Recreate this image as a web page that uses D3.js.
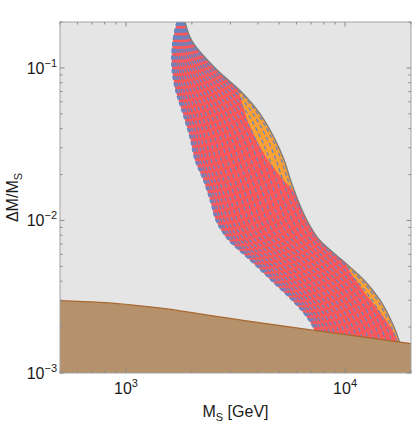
<!DOCTYPE html>
<html>
<head>
<meta charset="utf-8">
<script src="https://cdn.jsdelivr.net/npm/d3@7"></script>
<style>
  body { margin: 0; background: #fff; }
  svg { display: block; font-family: "Liberation Sans", Arial, sans-serif; }
</style>
</head>
<body>
<svg id="chart" width="414" height="422"></svg>
<script>
// band of allowed points in the (M_S, dM/M_S) plane, log-log

// band edges read at fixed dM/M_S levels (M_S in GeV)
var yLevels   = [0.2, 0.15, 0.1, 0.07, 0.05, 0.035, 0.025, 0.018, 0.013, 0.01, 0.0075, 0.0055, 0.004, 0.003, 0.0025, 0.002, 0.0017, 0.0015];
var leftEdge  = [1710, 1639, 1623, 1692, 1821, 1960, 2066, 2271, 2444, 2577, 2923, 3683, 4641, 5726, 6429, 7140, 7370, 7447];
var rightEdge = [1860, 2002, 2550, 3351, 4090, 4740, 5264, 5666, 6164, 6704, 7605, 9685, 12340, 14440, 15540, 16730, 17450, 18010];

// position of each dashed contour across the band (0 = left edge, 1 = right edge)
var contourFrac = [0, 0.012, 0.03, 0.055, 0.09, 0.13, 0.18, 0.235, 0.295, 0.36, 0.425, 0.49, 0.56, 0.63, 0.7, 0.77, 0.84, 0.91, 0.97];

// orange sub-regions (inner edge, closed outside the band)
var orangeTopM = [3048, 3246, 3351, 3459, 3607, 3802, 4049, 4357, 4691, 5102, 5549, 6100, 8538, 8538];
var orangeTopR = [0.0859, 0.0716, 0.0616, 0.053, 0.0442, 0.0374, 0.0312, 0.0261, 0.0224, 0.0193, 0.0168, 0.0149, 0.0149, 0.0859];
var orangeLowM = [9786, 10420, 11460, 12200, 13140, 14140, 15220, 16210, 17080, 18010, 24420, 24420];
var orangeLowR = [0.00567, 0.00473, 0.00389, 0.0034, 0.00296, 0.00259, 0.00226, 0.00197, 0.00172, 0.0015, 0.0015, 0.00567];

// excluded region at the bottom
var brownM = [500, 761, 1077, 1539, 2178, 3683, 6230, 10530, 20000];
var brownR = [0.00298, 0.0029, 0.00279, 0.00263, 0.00244, 0.00218, 0.00196, 0.00177, 0.00156];

var xTicks = [1000, 10000], xExp = ["3", "4"];
var yTicks = [0.001, 0.01, 0.1], yExp = ["\u22123", "\u22122", "\u22121"];

var svg = d3.select("#chart"),
    margin = {top: 22, right: 3, bottom: 49, left: 60},
    width = 414 - margin.left - margin.right,
    height = 422 - margin.top - margin.bottom,
    g = svg.append("g").attr("transform", "translate(" + margin.left + "," + margin.top + ")");

var x = d3.scaleLog().domain([500, 20000]).range([0, width]);
var y = d3.scaleLog().domain([0.001, 0.2]).range([height, 0]);

var defs = svg.append("defs");
defs.append("clipPath").attr("id", "plotclip")
    .append("rect").attr("width", width).attr("height", height);

var bandRows = yLevels.map(function(v, i) { return {v: v, l: leftEdge[i], r: rightEdge[i]} });

var band = d3.area()
    .y(function(d) { return y(d.v) })
    .x0(function(d) { return x(d.l) })
    .x1(function(d) { return x(d.r) })
    .curve(d3.curveCatmullRom);

defs.append("clipPath").attr("id", "bandclip")
    .append("path").attr("d", band(bandRows));

g.append("rect").attr("width", width).attr("height", height).attr("fill", "#e5e5e5");

var plot = g.append("g").attr("clip-path", "url(#plotclip)");

plot.append("path").attr("d", band(bandRows)).attr("fill", "#fa585b");

var poly = d3.line()
    .x(function(d) { return x(d[0]) })
    .y(function(d) { return y(d[1]) })
    .curve(d3.curveCatmullRom);

var inBand = plot.append("g").attr("clip-path", "url(#bandclip)");
[[orangeTopM, orangeTopR], [orangeLowM, orangeLowR]].forEach(function(o) {
    inBand.append("path")
        .attr("d", poly(d3.zip(o[0], o[1])) + "Z")
        .attr("fill", "#fba136");
});

var contour = d3.line()
    .y(function(d) { return y(d.v) })
    .x(function(d) { return x(d.m) })
    .curve(d3.curveCatmullRom);

contourFrac.forEach(function(f) {
    var pts = bandRows.map(function(d) {
        return {v: d.v, m: Math.pow(10, Math.log10(d.l) + f * (Math.log10(d.r) - Math.log10(d.l)))};
    });
    plot.append("path")
        .attr("d", contour(pts))
        .attr("fill", "none")
        .attr("stroke", "#6885c2")
        .attr("stroke-width", 1.3)
        .attr("stroke-dasharray", "4,2.8");
});

// right edge outline
plot.append("path")
    .attr("d", contour(bandRows.map(function(d) { return {v: d.v, m: d.r} })))
    .attr("fill", "none").attr("stroke", "#7d7d7d").attr("stroke-width", 1.4);

var brownArea = d3.area()
    .x(function(d) { return x(d[0]) })
    .y0(height)
    .y1(function(d) { return y(d[1]) })
    .curve(d3.curveMonotoneX);
var brownLine = d3.line()
    .x(function(d) { return x(d[0]) })
    .y(function(d) { return y(d[1]) })
    .curve(d3.curveMonotoneX);

plot.append("path").attr("d", brownArea(d3.zip(brownM, brownR))).attr("fill", "#b5916c");
plot.append("path").attr("d", brownLine(d3.zip(brownM, brownR)))
    .attr("fill", "none").attr("stroke", "#a8672e").attr("stroke-width", 1.3);

// frame
g.append("rect").attr("width", width).attr("height", height)
    .attr("fill", "none").attr("stroke", "#a3a3a3").attr("stroke-width", 1);

function minorTicks(lo, hi) {
    var t = [];
    for (var e = -4; e <= 5; e++)
        for (var k = 1; k <= 9; k++) {
            var v = k * Math.pow(10, e);
            if (v >= lo * 0.999 && v <= hi * 1.001) t.push({v: v, major: k == 1});
        }
    return t;
}

var tk = g.append("g").attr("stroke", "#8a8a8a").attr("stroke-width", 1);
minorTicks(500, 20000).forEach(function(t) {
    var px = x(t.v), len = t.major ? 4.5 : 2.5;
    tk.append("line").attr("x1", px).attr("x2", px).attr("y1", height).attr("y2", height - len);
    tk.append("line").attr("x1", px).attr("x2", px).attr("y1", 0).attr("y2", len);
});
minorTicks(0.001, 0.2).forEach(function(t) {
    var py = y(t.v), len = t.major ? 4.5 : 2.5;
    tk.append("line").attr("y1", py).attr("y2", py).attr("x1", 0).attr("x2", len);
    tk.append("line").attr("y1", py).attr("y2", py).attr("x1", width).attr("x2", width - len);
});

// tick labels
xTicks.forEach(function(v, i) {
    var t = g.append("text").attr("x", x(v)).attr("y", height + 21)
        .attr("text-anchor", "middle").attr("font-size", 16).attr("fill", "#1a1a1a");
    t.append("tspan").text("10");
    t.append("tspan").attr("dy", -7).attr("font-size", 11).text(xExp[i]);
});
yTicks.forEach(function(v, i) {
    var t = g.append("text").attr("x", -3).attr("y", y(v) + 6)
        .attr("text-anchor", "end").attr("font-size", 16).attr("fill", "#1a1a1a");
    t.append("tspan").text("10");
    t.append("tspan").attr("dy", -7).attr("font-size", 11).text(yExp[i]);
});

// axis titles
var xl = g.append("text").attr("x", width / 2).attr("y", height + 44)
    .attr("text-anchor", "middle").attr("font-size", 16).attr("fill", "#1a1a1a");
xl.append("tspan").text("M");
xl.append("tspan").attr("dy", 4).attr("font-size", 11).text("S");
xl.append("tspan").attr("dy", -4).text(" [GeV]");

var yl = svg.append("text")
    .attr("transform", "translate(18," + (margin.top + height / 2) + ") rotate(-90)")
    .attr("text-anchor", "middle").attr("font-size", 16).attr("fill", "#1a1a1a");
yl.append("tspan").text("\u0394M/M");
yl.append("tspan").attr("dy", 4).attr("font-size", 11).text("S");
</script>
</body>
</html>
